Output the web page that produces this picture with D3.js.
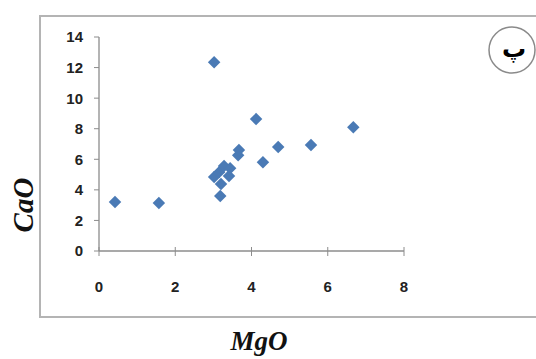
<!DOCTYPE html>
<html><head><meta charset="utf-8">
<script src="https://cdn.jsdelivr.net/npm/d3@7"></script>
<style>body{margin:0;background:#fff}svg{display:block}</style>
</head><body>
<script>
const mgo = [0.42, 1.57, 3.02, 4.12, 6.67, 5.56, 4.70, 4.30, 3.65, 3.67, 3.02, 3.15, 3.28, 3.44, 3.41, 3.20, 3.18];
const cao = [3.2, 3.14, 12.35, 8.63, 8.1, 6.93, 6.8, 5.8, 6.27, 6.6, 4.84, 5.16, 5.56, 5.42, 4.9, 4.38, 3.6];
const xTicks = [0, 2, 4, 6, 8];
const yTicks = [0, 2, 4, 6, 8, 10, 12, 14];
const xTitle = "MgO", yTitle = "CaO", panelLabel = "پ";

const W = 536, H = 359;
const svg = d3.select("body").append("svg").attr("width", W).attr("height", H);

// outer frame
svg.append("path").attr("d", "M541,16 H40 V317 H541").attr("fill","none")
  .attr("stroke","#b4b4b4").attr("stroke-width",2);

const x = d3.scaleLinear().domain([0, 8]).range([99, 404]);
const y = d3.scaleLinear().domain([0, 14]).range([251, 37]);

const ga = svg.append("g");
// y axis
ga.append("line").attr("x1",x(0)).attr("x2",x(0)).attr("y1",y(0)).attr("y2",y(14)).attr("stroke","#8c8c8c").attr("stroke-width",1.3);
ga.selectAll(".yt").data(yTicks).join("line").attr("x1",x(0)-5).attr("x2",x(0)).attr("y1",d=>y(d)).attr("y2",d=>y(d)).attr("stroke","#8c8c8c");
ga.selectAll(".yl").data(yTicks).join("text").attr("x",83).attr("y",d=>y(d)).attr("dy","0.36em")
  .attr("text-anchor","end").attr("font-family","Liberation Sans, Arial, sans-serif").attr("font-weight","bold")
  .attr("font-size",15).attr("fill","#222").text(d=>d);
// x axis
ga.append("line").attr("x1",x(0)).attr("x2",x(8)).attr("y1",y(0)).attr("y2",y(0)).attr("stroke","#8c8c8c").attr("stroke-width",1.3);
ga.selectAll(".xt").data(xTicks).join("line").attr("x1",d=>x(d)).attr("x2",d=>x(d)).attr("y1",y(0)-4).attr("y2",y(0)+5).attr("stroke","#8c8c8c");
ga.selectAll(".xl").data(xTicks).join("text").attr("x",d=>x(d)).attr("y",287).attr("dy","0.36em")
  .attr("text-anchor","middle").attr("font-family","Liberation Sans, Arial, sans-serif").attr("font-weight","bold")
  .attr("font-size",15).attr("fill","#222").text(d=>d);

// points (rotated squares)
const sym = d3.symbol().type(d3.symbolSquare).size(78);
svg.append("g").selectAll("path").data(mgo.map((m,i)=>[m,cao[i]])).join("path")
  .attr("transform",d=>`translate(${x(d[0])},${y(d[1])}) rotate(45)`).attr("d",sym)
  .attr("fill","#4a7ab5");

// titles
svg.append("text").attr("transform","translate(33,205) rotate(-90)").attr("text-anchor","middle")
  .attr("font-family","Liberation Serif, Times New Roman, serif").attr("font-style","italic").attr("font-weight","bold")
  .attr("font-size",29).attr("fill","#111").text(yTitle);
svg.append("text").attr("x",259).attr("y",350).attr("text-anchor","middle")
  .attr("font-family","Liberation Serif, Times New Roman, serif").attr("font-style","italic").attr("font-weight","bold")
  .attr("font-size",27).attr("fill","#111").text(xTitle);

// panel label
svg.append("circle").attr("cx",512).attr("cy",50).attr("r",23).attr("fill","#fff").attr("stroke","#8a8a8a").attr("stroke-width",1.5);
svg.append("text").attr("x",514).attr("y",57).attr("text-anchor","middle")
  .attr("font-family","DejaVu Sans, sans-serif").attr("font-weight","bold").attr("font-size",24).attr("fill","#000").text(panelLabel);
</script>
</body></html>
